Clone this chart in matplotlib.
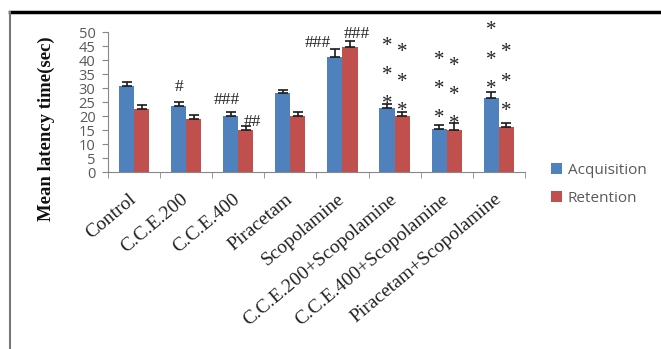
import matplotlib
matplotlib.use("Agg")
import matplotlib.pyplot as plt
import numpy as np
from matplotlib.lines import Line2D

categories = ["Control", "C.C.E.200", "C.C.E.400", "Piracetam", "Scopolamine",
              "C.C.E.200+Scopolamine", "C.C.E.400+Scopolamine", "Piracetam+Scopolamine"]
acquisition = [30.8, 23.5, 20.0, 28.2, 41.2, 22.8, 15.4, 26.3]
acq_err = [1.5, 1.5, 1.3, 1.0, 2.8, 1.5, 1.5, 2.3]
retention = [22.5, 19.0, 15.0, 20.0, 44.8, 20.0, 15.0, 16.2]
ret_err = [1.5, 1.5, 1.5, 1.3, 2.0, 1.5, 2.5, 1.3]

# significance marks: (group index, series 0=acq 1=ret, text, y, x shift)
hash_marks = [(1, 0, "#", 31.0, 0.0), (2, 0, "###", 26.4, -0.08), (2, 1, "##", 18.6, 0.12),
              (4, 0, "###", 47.0, -0.32), (4, 1, "###", 49.9, 0.13)]
star_y_acq = {5: [46.2, 35.8, 25.4], 6: [41.2, 30.8, 20.4], 7: [51.7, 41.0, 30.8]}
star_y_ret = {5: [43.8, 33.2, 22.9], 6: [38.8, 28.4, 18.2], 7: [43.8, 33.2, 22.9]}

blue = "#4F81BD"
red = "#C0504D"
gray = "#595959"

fig = plt.figure(figsize=(6.61, 3.49), dpi=100)
ax = fig.add_axes([0.1634, 0.507, 0.6306, 0.401])

x = np.arange(len(categories))
w = 0.29
ax.bar(x - w / 2, acquisition, w, color=blue, label="Acquisition", zorder=2)
ax.bar(x + w / 2, retention, w, color=red, label="Retention", zorder=2)
ax.errorbar(x - w / 2, acquisition, yerr=[np.zeros(len(x)), acq_err], fmt="none",
            ecolor="#1a1a1a", elinewidth=1.2, capsize=3.5, capthick=1.2, zorder=3)
ax.errorbar(x + w / 2, retention, yerr=[np.zeros(len(x)), ret_err], fmt="none",
            ecolor="#1a1a1a", elinewidth=1.2, capsize=3.5, capthick=1.2, zorder=3)

for gi, s, txt, yy, dx in hash_marks:
    xx = x[gi] + (-w / 2 if s == 0 else w / 2) + dx
    ax.text(xx, yy, txt, ha="center", va="center_baseline", family="Liberation Serif",
            fontsize=12.5, color="#222222", zorder=4)

for gi, ys in star_y_acq.items():
    for yy in ys:
        ax.text(x[gi] - w / 2, yy - 1.2, "*", ha="center", va="center", fontsize=15,
                color="#222222", family="Liberation Serif", zorder=4)
for gi, ys in star_y_ret.items():
    for yy in ys:
        ax.text(x[gi] + w / 2, yy - 1.2, "*", ha="center", va="center", fontsize=15,
                color="#222222", family="Liberation Serif", zorder=4)

ax.set_xlim(-0.5, len(categories) - 0.5)
ax.set_ylim(0, 50)
ax.set_yticks(range(0, 51, 5))
ax.tick_params(axis="y", labelsize=10.5, labelcolor=gray, color="#888888", length=4, pad=5)
for lab in ax.get_yticklabels():
    lab.set_family("Open Sans")

ax.set_xticks(x)
ax.set_xticklabels(categories, rotation=40, ha="right", va="center", rotation_mode="anchor",
                   family="Liberation Serif", fontsize=14, color="#222222")
ax.tick_params(axis="x", length=0, pad=18)
ax.set_xticks(np.arange(-0.5, len(categories), 1.0), minor=True)
ax.tick_params(axis="x", which="minor", length=4, color="#888888")

for sp in ["top", "right"]:
    ax.spines[sp].set_visible(False)
ax.spines["left"].set_color("#888888")
ax.spines["bottom"].set_color("#888888")

fig.text(0.07, 0.63, "Mean latency time(sec)", rotation=90, ha="center", va="center",
         family="Liberation Serif", fontweight="bold", fontsize=13.5, color="#111111")

leg = ax.legend(loc="center left", bbox_to_anchor=(1.03, -0.09), frameon=False,
                handlelength=0.7, handleheight=0.7, labelspacing=0.85, handletextpad=0.4,
                prop={"family": "Open Sans", "size": 11})
for t in leg.get_texts():
    t.set_color(gray)

# page frame
fig.add_artist(Line2D([10 / 661, 1.0], [1 - 12 / 349, 1 - 12 / 349], color="black", lw=2.5,
                      transform=fig.transFigure))
fig.add_artist(Line2D([10 / 661, 10 / 661], [0, 1 - 12 / 349], color="#777777", lw=1.5,
                      transform=fig.transFigure))

fig.savefig("out.png", dpi=100)
